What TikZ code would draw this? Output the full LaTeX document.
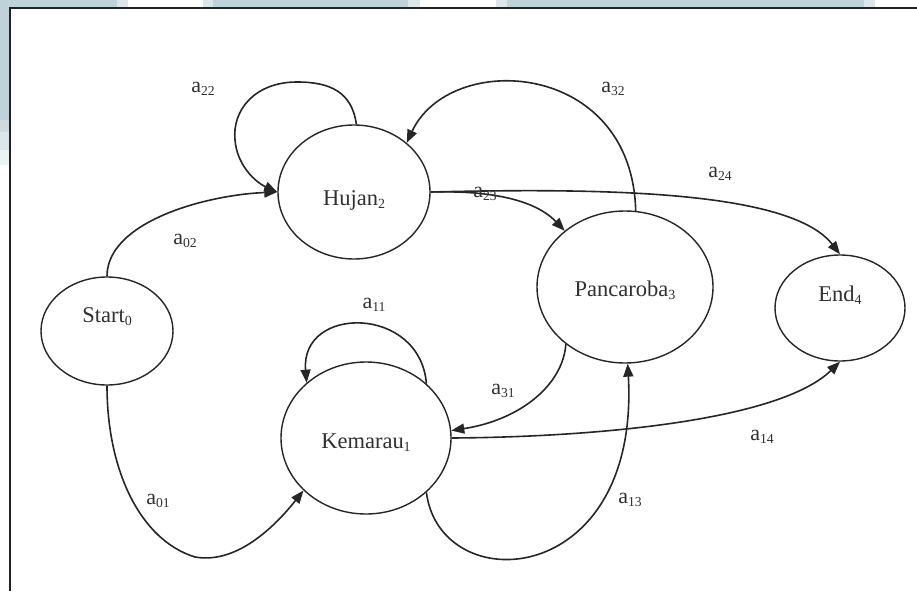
\documentclass[tikz,border=0pt]{standalone}
\usepackage{fontspec}
\usepackage{graphicx}
\setmainfont{Liberation Serif}
\usetikzlibrary{shapes.geometric,arrows.meta}
\definecolor{bluegray}{HTML}{BFD1D9}
\definecolor{lightbg}{HTML}{DCE5EA}
\definecolor{midbg}{HTML}{CFDADF}
\definecolor{palebg}{HTML}{EBF3F5}
\definecolor{framecol}{HTML}{222222}
\definecolor{ink}{HTML}{262626}
\definecolor{inktext}{HTML}{303030}
\newcommand{\subs}[1]{\raisebox{-3pt}{\scalebox{0.62}{#1}}}
\newcommand{\lbl}[2]{a\subs{#1#2}}
\tikzset{
  state/.style={draw=ink, line width=1.4pt, ellipse, inner sep=0pt, text=inktext,
    font=\fontsize{22.5}{22.5}\selectfont},
  conn/.style={draw=ink, line width=1.6pt, -{Triangle[length=13pt,width=10pt]}},
  elabel/.style={text=inktext, font=\fontsize{22}{22}\selectfont, inner sep=0pt}
}
\begin{document}
\begin{tikzpicture}[x=1pt,y=-1pt]
\useasboundingbox (0,0) rectangle (917,591);
\fill[white] (0,0) rectangle (917,591);
% screenshot background strips
\fill[bluegray] (0,0) rectangle (117,7);
\fill[lightbg] (117,0) rectangle (128,7);
\fill[lightbg] (203,0) rectangle (213,7);
\fill[bluegray] (213,0) rectangle (408,7);
\fill[lightbg] (408,0) rectangle (420,7);
\fill[lightbg] (496,0) rectangle (507,7);
\fill[bluegray] (507,0) rectangle (864,7);
\fill[lightbg] (864,0) rectangle (875,7);
\fill[bluegray] (0,0) rectangle (9,120);
\fill[midbg] (0,120) rectangle (9,132);
\fill[lightbg] (0,132) rectangle (9,150);
\fill[palebg] (0,150) rectangle (9,165);
% frame
\draw[framecol, line width=2pt] (9.5,591) -- (9.5,8) -- (917,8);

% states
\node[state, minimum width=132pt, minimum height=108pt] (S) at (107,331)
  {\raisebox{9pt}[0pt][0pt]{Start\subs{0}}};
\node[state, minimum width=152pt, minimum height=134pt] (H) at (354,192)
  {\raisebox{-13pt}[0pt][0pt]{Hujan\subs{2}}};
\node[state, minimum width=176pt, minimum height=152pt] (P) at (625,287)
  {\raisebox{-9pt}[0pt][0pt]{Pancaroba\subs{3}}};
\node[state, minimum width=130pt, minimum height=106pt] (E) at (840,308)
  {\raisebox{7pt}[0pt][0pt]{End\subs{4}}};
\node[state, minimum width=170pt, minimum height=152pt] (K) at (366,438)
  {\raisebox{-10pt}[0pt][0pt]{Kemarau\subs{1}}};

% connectors
\draw[conn] (S.north) .. controls (107,222) and (205,195) .. (H.west);
\draw[conn] (H.88) .. controls (352,92) and (330,82) .. (297,82)
  .. controls (255,82) and (232,110) .. (235,140)
  .. controls (237,165) and (255,182) .. (H.west);
\draw[conn] (P.82) .. controls (632,60) and (450,50) .. (H.43);
\draw[conn] (H.east) .. controls (505,190) and (540,205) .. (P.137);
\draw[conn] (H.east) .. controls (600,188) and (790,190) .. (E.north);
\draw[conn] (K.42) .. controls (420,305) and (300,305) .. (K.137);
\draw[conn] (P.224) .. controls (563,385) and (520,420) .. (K.5);
\draw[conn] (K.east) .. controls (600,437) and (780,420) .. (E.south);
\draw[conn] (K.318) .. controls (440,600) and (640,590) .. (P.272);
\draw[conn] (S.south) .. controls (107,470) and (140,540) .. (195,557)
  .. controls (240,565) and (280,520) .. (K.220);

% labels
\node[elabel] (l22) at (203,89) {\lbl22};
\node[elabel] (l32) at (613,89) {\lbl32};
\node[elabel] (l24) at (720,174) {\lbl24};
\node[elabel] (l02) at (185,241) {\lbl02};
\node[elabel] (l23) at (485,194) {\lbl23};
\node[elabel] (l11) at (374,305) {\lbl11};
\node[elabel] (l31) at (503,391) {\lbl31};
\node[elabel] (l14) at (762,437) {\lbl14};
\node[elabel] (l01) at (158,501) {\lbl01};
\node[elabel] (l13) at (630,500) {\lbl13};
\end{tikzpicture}
\end{document}
